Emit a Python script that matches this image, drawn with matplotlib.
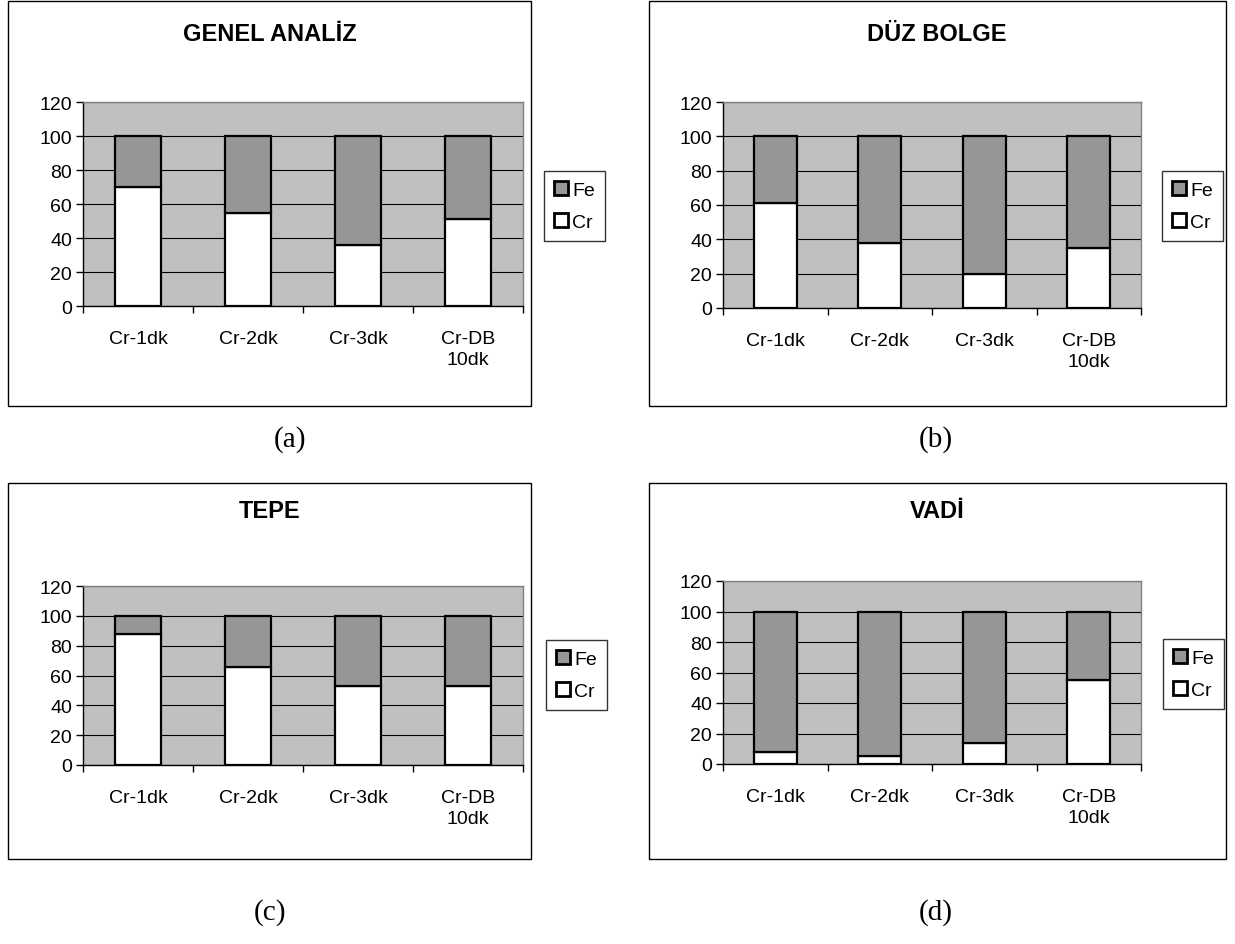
import matplotlib.pyplot as plt
from matplotlib.patches import Rectangle, Patch

plt.rcParams['font.family'] = ['Liberation Sans', 'DejaVu Sans']

# Data (Cr share, Fe = remainder to 100)
categories = ['Cr-1dk', 'Cr-2dk', 'Cr-3dk', 'Cr-DB\n10dk']
titles = ['GENEL ANALİZ', 'DÜZ BOLGE', 'TEPE', 'VADİ']
panel_labels = ['(a)', '(b)', '(c)', '(d)']
cr_genel = [70, 55, 36, 51]
cr_duz = [61, 38, 20, 35]
cr_tepe = [88, 66, 53, 53]
cr_vadi = [8, 5, 14, 55]
fe_genel = [30, 45, 64, 49]
fe_duz = [39, 62, 80, 65]
fe_tepe = [12, 34, 47, 47]
fe_vadi = [92, 95, 86, 45]

W, H = 1235, 945
fig = plt.figure(figsize=(W / 100, H / 100), dpi=100)


def fx(px):
    return px / W


def fy(py):
    return 1 - py / H


# panel geometry in pixels: frame box, axes box, legend anchor, title/label positions
panels = [
    dict(frame=(8, 2, 531, 407), ax=(83, 103, 523, 307), leg=(544, 172), ty=35, cx=270, lx=290, ly=440),
    dict(frame=(649, 2, 1226, 407), ax=(723, 103, 1141, 309), leg=(1162, 172), ty=35, cx=937, lx=936, ly=440),
    dict(frame=(8, 484, 531, 860), ax=(83, 587, 523, 766), leg=(546, 641), ty=512, cx=270, lx=270, ly=913),
    dict(frame=(649, 484, 1226, 860), ax=(723, 582, 1141, 765), leg=(1163, 640), ty=512, cx=937, lx=936, ly=913),
]
cr_all = [cr_genel, cr_duz, cr_tepe, cr_vadi]
fe_all = [fe_genel, fe_duz, fe_tepe, fe_vadi]

for i, p in enumerate(panels):
    x0, y0, x1, y1 = p['frame']
    fig.patches.append(Rectangle((fx(x0), fy(y1)), fx(x1 - x0), (y1 - y0) / H,
                                 transform=fig.transFigure, fill=False,
                                 edgecolor='black', linewidth=1.0))
    ax0, ay0, ax1, ay1 = p['ax']
    ax = fig.add_axes([fx(ax0), fy(ay1), fx(ax1 - ax0), (ay1 - ay0) / H])
    ax.set_facecolor('#c0c0c0')
    xs = range(len(categories))
    ax.bar(xs, cr_all[i], width=0.41, color='white', edgecolor='black', linewidth=1.6,
           label='Cr', zorder=3)
    ax.bar(xs, fe_all[i], width=0.41, bottom=cr_all[i], color='#969696',
           edgecolor='black', linewidth=1.6, label='Fe', zorder=3)
    ax.set_xlim(-0.5, 3.5)
    ax.set_ylim(0, 120)
    ax.set_yticks(range(0, 121, 20))
    ax.yaxis.grid(True, color='black', linewidth=0.8, zorder=1)
    ax.set_axisbelow(True)
    ax.set_xticks(list(xs))
    ax.set_xticklabels(categories, fontsize=14, linespacing=1.35)
    ax.tick_params(axis='x', length=0, pad=17)
    ax.set_xticks([-0.5, 0.5, 1.5, 2.5, 3.5], minor=True)
    ax.tick_params(axis='x', which='minor', length=5, width=1, direction='out')
    ax.tick_params(axis='y', labelsize=14, length=5, width=1, direction='out', pad=3)
    for s in ['top', 'right']:
        ax.spines[s].set_color('#808080')
        ax.spines[s].set_linewidth(1.0)
    for s in ['left', 'bottom']:
        ax.spines[s].set_color('black')
        ax.spines[s].set_linewidth(1.0)

    handles = [Patch(facecolor='#969696', edgecolor='black', linewidth=2.0, label='Fe'),
               Patch(facecolor='white', edgecolor='black', linewidth=2.0, label='Cr')]
    gx, gy = p['leg']
    fig.legend(handles=handles, loc='upper left', bbox_to_anchor=(fx(gx), fy(gy)),
               fontsize=14, frameon=True, fancybox=False, edgecolor='black',
               handlelength=0.75, handleheight=0.75, handletextpad=0.2,
               borderpad=0.5, labelspacing=0.75, borderaxespad=0)

    fig.text(fx(p['cx']), fy(p['ty']), titles[i], ha='center', va='center',
             fontsize=17, fontweight='bold')
    fig.text(fx(p['lx']), fy(p['ly']), panel_labels[i], ha='center', va='center',
             fontsize=21, family='Liberation Serif')

fig.savefig('out.png', dpi=100, facecolor='white')
